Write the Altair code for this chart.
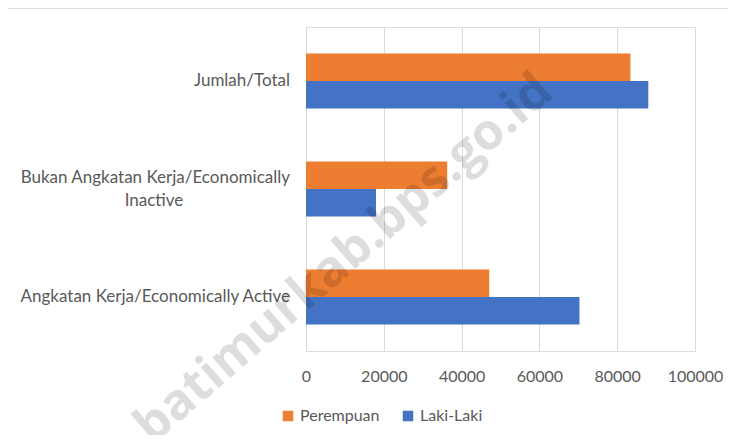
import altair as alt
import pandas as pd

categories = ["Jumlah/Total",
              "Bukan Angkatan Kerja/Economically Inactive",
              "Angkatan Kerja/Economically Active"]
label_line1 = ["Jumlah/Total",
               "Bukan Angkatan Kerja/Economically",
               "Angkatan Kerja/Economically Active"]
label_line2 = ["", "Inactive", ""]
series = ["Perempuan", "Laki-Laki"]
perempuan = [83400, 36300, 47100]
laki_laki = [88000, 18000, 70300]
x_ticks = [0, 20000, 40000, 60000, 80000, 100000]
watermark = ["batimurkab.bps.go.id"]

colors = ["#ED7D31", "#4472C4"]
FONT = "Lato"
FS = 17
TXT = "#595959"

rows = []
for c, p, l in zip(categories, perempuan, laki_laki):
    rows.append({"cat": c, "series": "Perempuan", "value": p})
    rows.append({"cat": c, "series": "Laki-Laki", "value": l})
df = pd.DataFrame(rows)

lab = pd.DataFrame({"cat": categories, "l1": label_line1, "l2": label_line2})

W, H = 389, 324
PL, PT, PR, PB = 298, 19, 33, 84

yenc = alt.Y("cat:N", sort=categories, axis=None,
             scale=alt.Scale(paddingInner=0.49, paddingOuter=0.245))

bars = alt.Chart(df).mark_bar().encode(
    x=alt.X("value:Q",
            scale=alt.Scale(domain=[0, 100000], nice=False),
            axis=alt.Axis(values=x_ticks, title=None, domain=False, ticks=False,
                          grid=True, gridColor="#d9d9d9", gridWidth=1,
                          labelFont=FONT, labelFontSize=16, labelColor=TXT,
                          labelPadding=17, format="d", labelOverlap=False,
                          labelFlush=False, labelBound=False)),
    y=yenc,
    yOffset=alt.YOffset("series:N", sort=series),
    color=alt.Color("series:N", sort=series,
                    scale=alt.Scale(domain=series, range=colors),
                    legend=alt.Legend(title=None, orient="none", legendX=-26, legendY=381,
                                      direction="horizontal", symbolType="square",
                                      symbolSize=110, symbolStrokeWidth=0,
                                      labelFont=FONT, labelFontSize=16, labelColor=TXT,
                                      columnPadding=20, labelOffset=4)),
)

single = alt.Chart(lab).transform_filter("datum.l2 == ''").mark_text(
    align="right", baseline="middle", font=FONT, fontSize=FS, color=TXT
).encode(y=yenc, x=alt.value(-16), text="l1:N")

wrap1 = alt.Chart(lab).transform_filter("datum.l2 != ''").mark_text(
    align="right", baseline="middle", font=FONT, fontSize=FS, color=TXT, dy=-11
).encode(y=yenc, x=alt.value(-16), text="l1:N")

wrap2 = alt.Chart(lab).transform_filter("datum.l2 != ''").mark_text(
    align="center", baseline="middle", font=FONT, fontSize=FS, color=TXT, dy=12
).encode(y=yenc, x=alt.value(-152), text="l2:N")

top_rule = alt.Chart(pd.DataFrame({"a": [0]})).mark_rule(
    color="#d9d9d9", strokeWidth=1
).encode(x=alt.value(-PL), x2=alt.value(W + PR), y=alt.value(-PT + 0.5))

wm = alt.Chart(pd.DataFrame({"t": watermark})).mark_text(
    align="center", baseline="middle", font="Open Sans", fontSize=50,
    fontWeight="bold", color="#000000", opacity=0.13, angle=319
).encode(x=alt.value(38), y=alt.value(232), text="t:N")

chart = alt.layer(top_rule, bars, single, wrap1, wrap2, wm).properties(
    width=W, height=H,
    autosize=alt.AutoSizeParams(type="none"),
    padding={"left": PL, "top": PT, "right": PR, "bottom": PB},
).configure_view(stroke=None).configure(background="white")

chart.save("out.html", embed_options={"renderer": "svg", "actions": False})
